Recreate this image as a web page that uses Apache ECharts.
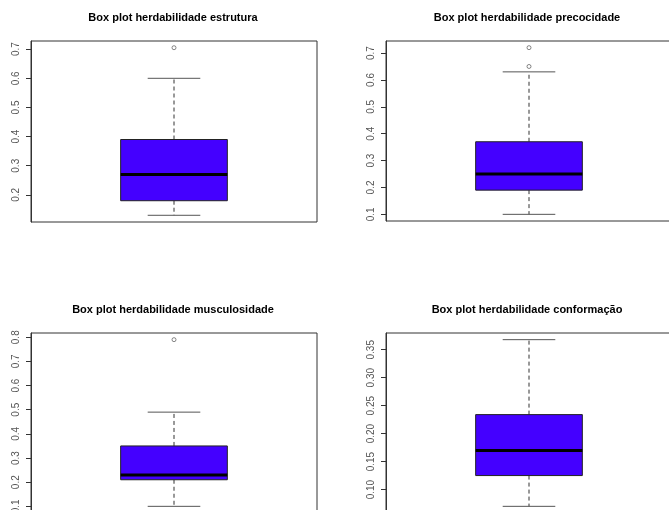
<!DOCTYPE html>
<html>
<head>
<meta charset="utf-8">
<script src="https://cdn.jsdelivr.net/npm/echarts@6/dist/echarts.min.js"></script>
<style>
html,body{margin:0;padding:0;background:#fff;}
#chart{width:669px;height:510px;}
</style>
</head>
<body>
<div id="chart"></div>
<script>
// ---- data ----
const titles = [
  'Box plot herdabilidade estrutura',
  'Box plot herdabilidade precocidade',
  'Box plot herdabilidade musculosidade',
  'Box plot herdabilidade conformação'
];
// [min, Q1, median, Q3, max]
const boxEstrutura = [0.13, 0.18, 0.27, 0.39, 0.60];
const boxPrecocidade = [0.10, 0.19, 0.25, 0.37, 0.63];
const boxMusculosidade = [0.10, 0.21, 0.23, 0.35, 0.49];
const boxConformacao = [0.07, 0.125, 0.17, 0.234, 0.368];
const outEstrutura = [0.705];
const outPrecocidade = [0.72, 0.65];
const outMusculosidade = [0.79];
const outConformacao = [];
const ticksEstrutura = [0.2, 0.3, 0.4, 0.5, 0.6, 0.7];
const ticksPrecocidade = [0.1, 0.2, 0.3, 0.4, 0.5, 0.6, 0.7];
const ticksMusculosidade = [0.1, 0.2, 0.3, 0.4, 0.5, 0.6, 0.7, 0.8];
const ticksConformacao = [0.10, 0.15, 0.20, 0.25, 0.30, 0.35];
const tickDecimals = [1, 1, 1, 2];

const boxes = [boxEstrutura, boxPrecocidade, boxMusculosidade, boxConformacao];
const outs = [outEstrutura, outPrecocidade, outMusculosidade, outConformacao];
const ticks = [ticksEstrutura, ticksPrecocidade, ticksMusculosidade, ticksConformacao];

// ---- layout ----
const grids = [
  {left: 31, top: 41, width: 286, height: 181},
  {left: 386, top: 41, width: 286, height: 180},
  {left: 31, top: 333, width: 286, height: 180},
  {left: 386, top: 333, width: 286, height: 180}
];
const titleX = [173, 527, 173, 527];
const titleY = [12, 12, 304, 304];
const FONT = '"Liberation Sans", Arial, sans-serif';

const option = {
  animation: false,
  backgroundColor: '#ffffff',
  title: titles.map((t, i) => ({
    text: t, left: titleX[i], top: titleY[i], textAlign: 'center', padding: 0,
    textStyle: {fontSize: 11, fontWeight: 'bold', color: '#000', fontFamily: FONT}
  })),
  grid: grids.map(g => Object.assign({show: true, borderColor: '#333', borderWidth: 1,
    backgroundColor: 'transparent', outerBoundsMode: 'none', containLabel: false}, g)),
  xAxis: grids.map((g, i) => ({
    type: 'value', gridIndex: i, min: 0, max: 1, show: false
  })),
  yAxis: boxes.map((b, i) => {
    const all = b.concat(outs[i]);
    const lo = Math.min.apply(null, all), hi = Math.max.apply(null, all);
    const pad = 0.04 * (hi - lo);
    return {
      type: 'value', gridIndex: i, min: lo - pad, max: hi + pad,
      splitLine: {show: false},
      axisLine: {show: true, lineStyle: {color: '#333', width: 1}},
      axisTick: {show: true, length: 5, customValues: ticks[i], lineStyle: {color: '#333'}},
      axisLabel: {
        customValues: ticks[i], rotate: 90, margin: 10, color: '#555', fontSize: 10, fontFamily: FONT,
        formatter: v => Number(v).toFixed(tickDecimals[i])
      }
    };
  }),
  series: []
};

boxes.forEach((b, i) => {
  option.series.push({
    type: 'custom',
    xAxisIndex: i, yAxisIndex: i,
    data: [[0.5].concat(b)],
    renderItem: function (params, api) {
      const x = api.value(0);
      const hw = 0.1865, cw = 0.092;
      const p = k => api.coord([x, api.value(k)]);
      const pMin = p(1), pQ1 = p(2), pMed = p(3), pQ3 = p(4), pMax = p(5);
      const left = api.coord([x - hw, 0])[0], right = api.coord([x + hw, 0])[0];
      const cl = api.coord([x - cw, 0])[0], cr = api.coord([x + cw, 0])[0];
      const cx = pMed[0];
      const dash = {stroke: '#333', lineWidth: 1, lineDash: [4, 3]};
      const solid = {stroke: '#555', lineWidth: 1};
      return {
        type: 'group',
        children: [
          {type: 'line', shape: {x1: cx, y1: pQ3[1], x2: cx, y2: pMax[1]}, style: dash},
          {type: 'line', shape: {x1: cx, y1: pQ1[1], x2: cx, y2: pMin[1]}, style: dash},
          {type: 'line', shape: {x1: cl, y1: pMax[1], x2: cr, y2: pMax[1]}, style: solid},
          {type: 'line', shape: {x1: cl, y1: pMin[1], x2: cr, y2: pMin[1]}, style: solid},
          {type: 'rect', shape: {x: left, y: pQ3[1], width: right - left, height: pQ1[1] - pQ3[1]},
            style: {fill: '#4400ff', stroke: '#222', lineWidth: 1}},
          {type: 'line', shape: {x1: left, y1: pMed[1], x2: right, y2: pMed[1]}, style: {stroke: '#000', lineWidth: 3}}
        ]
      };
    }
  });
  option.series.push({
    type: 'scatter', xAxisIndex: i, yAxisIndex: i,
    data: outs[i].map(v => [0.5, v]),
    symbol: 'circle', symbolSize: 4,
    itemStyle: {color: '#ffffff', borderColor: '#444', borderWidth: 0.8}
  });
});

const chart = echarts.init(document.getElementById('chart'), null, {renderer: 'canvas'});
chart.setOption(option);
</script>
</body>
</html>
